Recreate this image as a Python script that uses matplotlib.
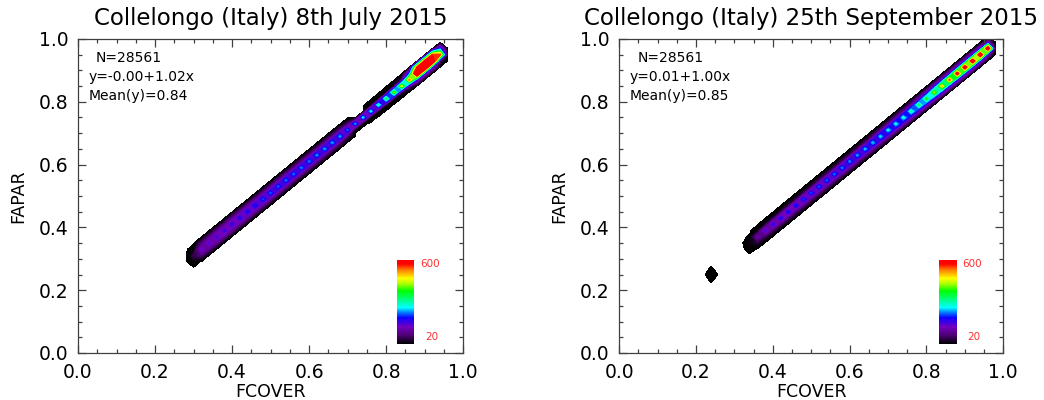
#!/usr/bin/env python3
"""
FAPAR vs FCOVER density plots - Collelongo (Italy), July and September 2015.
"""

import numpy as np
import matplotlib
matplotlib.use('Agg')
import matplotlib.pyplot as plt
from matplotlib.colors import LinearSegmentedColormap, Normalize
from matplotlib.cm import ScalarMappable
from matplotlib.ticker import MultipleLocator

# ---- 8th July 2015: counts per FCOVER bin (centre cell, cell above, cell below)
fcover_jul = [0.30, 0.32, 0.34, 0.36, 0.38, 0.40, 0.42, 0.44, 0.46, 0.48, 0.50,
              0.52, 0.54, 0.56, 0.58, 0.60, 0.62, 0.64, 0.66, 0.68, 0.70, 0.72,
              0.74, 0.76, 0.78, 0.80, 0.82, 0.84, 0.86, 0.88, 0.90, 0.92, 0.94]
fapar_jul = [0.31, 0.33, 0.35, 0.37, 0.39, 0.41, 0.43, 0.45, 0.47, 0.49, 0.51,
             0.53, 0.55, 0.57, 0.59, 0.61, 0.63, 0.65, 0.67, 0.69, 0.71, 0.73,
             0.75, 0.77, 0.79, 0.81, 0.83, 0.85, 0.87, 0.89, 0.91, 0.93, 0.95]
count_jul = [60, 150, 160, 170, 175, 180, 190, 200, 210, 220, 225,
             230, 235, 235, 240, 240, 245, 245, 250, 250, 230, 250,
             270, 280, 310, 360, 420, 470, 540, 800, 820, 800, 560]
above_jul = [15, 80, 85, 90, 90, 95, 95, 95, 95, 95, 95,
             95, 95, 90, 90, 90, 90, 90, 90, 85, 70, 0,
             0, 22, 25, 30, 40, 60, 200, 560, 580, 560, 200]
below_jul = [20, 80, 85, 90, 90, 95, 95, 95, 95, 95, 95,
             95, 95, 90, 90, 90, 90, 90, 90, 85, 70, 6,
             6, 15, 25, 30, 40, 50, 90, 160, 160, 150, 60]

# ---- 25th September 2015
fcover_sep = [0.24, 0.34, 0.36, 0.38, 0.40, 0.42, 0.44, 0.46, 0.48, 0.50, 0.52,
              0.54, 0.56, 0.58, 0.60, 0.62, 0.64, 0.66, 0.68, 0.70, 0.72, 0.74,
              0.76, 0.78, 0.80, 0.82, 0.84, 0.86, 0.88, 0.90, 0.92, 0.94, 0.96]
fapar_sep = [0.25, 0.35, 0.37, 0.39, 0.41, 0.43, 0.45, 0.47, 0.49, 0.51, 0.53,
             0.55, 0.57, 0.59, 0.61, 0.63, 0.65, 0.67, 0.69, 0.71, 0.73, 0.75,
             0.77, 0.79, 0.81, 0.83, 0.85, 0.87, 0.89, 0.91, 0.93, 0.95, 0.97]
count_sep = [16, 30, 120, 170, 190, 200, 205, 210, 215, 220, 225,
             230, 235, 240, 245, 250, 255, 260, 270, 275, 280, 290,
             310, 340, 380, 440, 500, 560, 640, 680, 700, 720, 700]
above_sep = [4, 5, 25, 35, 40, 45, 50, 50, 55, 55, 60,
             60, 60, 65, 65, 70, 70, 75, 80, 85, 90, 95,
             100, 110, 120, 130, 140, 140, 150, 150, 150, 150, 120]
below_sep = [4, 10, 45, 55, 65, 70, 75, 75, 80, 80, 85,
             85, 90, 90, 95, 95, 100, 105, 110, 115, 120, 125,
             130, 135, 140, 150, 160, 160, 170, 170, 170, 160, 110]

titles = ['Collelongo (Italy) 8th July 2015', 'Collelongo (Italy) 25th September 2015']
stats = [['N=28561', 'y=-0.00+1.02x', 'Mean(y)=0.84'],
         ['N=28561', 'y=0.01+1.00x', 'Mean(y)=0.85']]
cbar_range = [20, 600]

# IDL-like rainbow with black bottom
rainbow = LinearSegmentedColormap.from_list('idl39', [
    (0.00, (0.0, 0.0, 0.0)),
    (0.10, (0.30, 0.0, 0.45)),
    (0.20, (0.45, 0.0, 0.75)),
    (0.31, (0.05, 0.0, 1.0)),
    (0.38, (0.0, 0.55, 1.0)),
    (0.43, (0.0, 1.0, 1.0)),
    (0.53, (0.0, 1.0, 0.5)),
    (0.63, (0.0, 1.0, 0.0)),
    (0.72, (0.7, 1.0, 0.0)),
    (0.78, (1.0, 1.0, 0.0)),
    (0.88, (1.0, 0.5, 0.0)),
    (0.95, (1.0, 0.0, 0.0)),
    (1.00, (1.0, 0.0, 0.0)),
])
rainbow.set_under('black')
rainbow.set_over('red')

STEP = 0.02


def build_grid(fcover, fapar, count, above, below):
    """Put bin counts on a regular grid (x nodes 0..1, y nodes offset by 0.01)."""
    gx = np.arange(51) * STEP
    gy = np.arange(52) * STEP + 0.01 - STEP
    H = np.zeros((len(gy), len(gx)))
    for x, y, c, a, b in zip(fcover, fapar, count, above, below):
        i = int(round(x / STEP))
        j = int(round((y - 0.01) / STEP)) + 1
        H[j, i] = max(H[j, i], c)
        H[j + 1, i] = max(H[j + 1, i], a)
        H[j - 1, i] = max(H[j - 1, i], b)
    return gx, gy, H


def style_axes(ax):
    ax.set_xlim(0, 1)
    ax.set_ylim(0, 1)
    ax.xaxis.set_major_locator(MultipleLocator(0.2))
    ax.yaxis.set_major_locator(MultipleLocator(0.2))
    ax.xaxis.set_minor_locator(MultipleLocator(0.05))
    ax.yaxis.set_minor_locator(MultipleLocator(0.05))
    ax.xaxis.set_major_formatter(plt.FormatStrFormatter('%.1f'))
    ax.yaxis.set_major_formatter(plt.FormatStrFormatter('%.1f'))
    ax.tick_params(which='both', direction='in', top=True, right=True,
                   color='#404040', width=0.9)
    ax.tick_params(which='major', length=6, labelsize=13.5, pad=7)
    ax.tick_params(which='minor', length=3)
    for s in ax.spines.values():
        s.set_color('#404040')
        s.set_linewidth(0.9)
    ax.set_xlabel('FCOVER', fontsize=12.5, labelpad=1)
    ax.set_ylabel('FAPAR', fontsize=12.5, labelpad=8)


def draw_panel(fig, rect, data, title, lines, cb_rect):
    ax = fig.add_axes(rect)
    gx, gy, H = build_grid(*data)
    levels = np.concatenate([[3], np.linspace(cbar_range[0], cbar_range[1], 59)])
    norm = Normalize(vmin=cbar_range[0], vmax=cbar_range[1])
    ax.contourf(gx, gy, H, levels=levels, cmap=rainbow, norm=norm, extend='max')
    style_axes(ax)
    ax.set_title(title, fontsize=16.5, pad=10)

    ax.text(0.047, 0.94, lines[0], fontsize=10, va='center', ha='left')
    ax.text(0.028, 0.88, lines[1], fontsize=10, va='center', ha='left')
    ax.text(0.028, 0.82, lines[2], fontsize=10, va='center', ha='left')

    # small colour bar inside the plot
    cax = ax.inset_axes(cb_rect)
    fig.colorbar(ScalarMappable(norm=norm, cmap=rainbow), cax=cax)
    cax.set_yticks([])
    cax.set_xticks([])
    for s in cax.spines.values():
        s.set_visible(False)
    ax.text(cb_rect[0] + cb_rect[2] + 0.015, cb_rect[1] + cb_rect[3] - 0.015,
            str(cbar_range[1]), transform=ax.transAxes, fontsize=7.5,
            color='#ff3030', va='center', ha='left')
    ax.text(cb_rect[0] + cb_rect[2] + 0.028, cb_rect[1] + 0.022,
            str(cbar_range[0]), transform=ax.transAxes, fontsize=7.5,
            color='#ff3030', va='center', ha='left')
    return ax


def main():
    fig = plt.figure(figsize=(10.44, 4.0), dpi=100)
    draw_panel(fig, [0.0747, 0.1175, 0.369, 0.785],
               (fcover_jul, fapar_jul, count_jul, above_jul, below_jul),
               titles[0], stats[0], [0.829, 0.029, 0.044, 0.268])
    draw_panel(fig, [0.593, 0.1175, 0.368, 0.785],
               (fcover_sep, fapar_sep, count_sep, above_sep, below_sep),
               titles[1], stats[1], [0.833, 0.029, 0.046, 0.268])
    fig.savefig('out.png', dpi=100)


if __name__ == '__main__':
    main()
